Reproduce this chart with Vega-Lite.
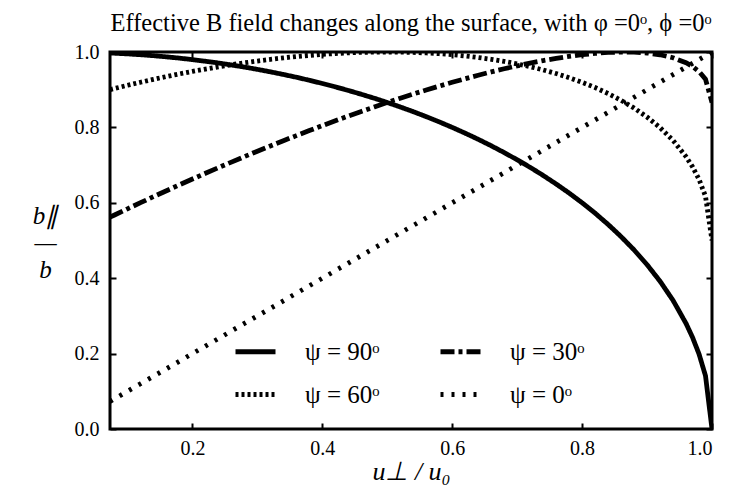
{
  "$schema": "https://vega.github.io/schema/vega-lite/v6.json",
  "width": 602,
  "height": 377,
  "autosize": {"type": "none"},
  "padding": {"left": 110, "top": 52, "right": 38, "bottom": 61},
  "title": {
    "text": "Effective B field changes along the surface, with φ =0ᵒ, ϕ =0ᵒ",
    "font": "Liberation Serif",
    "fontSize": 24.5,
    "fontWeight": "normal",
    "color": "black",
    "offset": 6
  },
  "data": {
    "values": [
      {"u": 0.073, "ψ = 90ᵒ": 0.9973, "ψ = 60ᵒ": 0.9002, "ψ = 30ᵒ": 0.5619, "ψ = 0ᵒ": 0.073},
      {"u": 0.08, "ψ = 90ᵒ": 0.9968, "ψ = 60ᵒ": 0.9032, "ψ = 30ᵒ": 0.5677, "ψ = 0ᵒ": 0.08},
      {"u": 0.10, "ψ = 90ᵒ": 0.9950, "ψ = 60ᵒ": 0.9117, "ψ = 30ᵒ": 0.5841, "ψ = 0ᵒ": 0.10},
      {"u": 0.12, "ψ = 90ᵒ": 0.9928, "ψ = 60ᵒ": 0.9198, "ψ = 30ᵒ": 0.6003, "ψ = 0ᵒ": 0.12},
      {"u": 0.14, "ψ = 90ᵒ": 0.9902, "ψ = 60ᵒ": 0.9275, "ψ = 30ᵒ": 0.6163, "ψ = 0ᵒ": 0.14},
      {"u": 0.16, "ψ = 90ᵒ": 0.9871, "ψ = 60ᵒ": 0.9349, "ψ = 30ᵒ": 0.6321, "ψ = 0ᵒ": 0.16},
      {"u": 0.18, "ψ = 90ᵒ": 0.9837, "ψ = 60ᵒ": 0.9419, "ψ = 30ᵒ": 0.6477, "ψ = 0ᵒ": 0.18},
      {"u": 0.20, "ψ = 90ᵒ": 0.9798, "ψ = 60ᵒ": 0.9485, "ψ = 30ᵒ": 0.6631, "ψ = 0ᵒ": 0.20},
      {"u": 0.22, "ψ = 90ᵒ": 0.9755, "ψ = 60ᵒ": 0.9548, "ψ = 30ᵒ": 0.6783, "ψ = 0ᵒ": 0.22},
      {"u": 0.24, "ψ = 90ᵒ": 0.9708, "ψ = 60ᵒ": 0.9607, "ψ = 30ᵒ": 0.6932, "ψ = 0ᵒ": 0.24},
      {"u": 0.26, "ψ = 90ᵒ": 0.9656, "ψ = 60ᵒ": 0.9662, "ψ = 30ᵒ": 0.7080, "ψ = 0ᵒ": 0.26},
      {"u": 0.28, "ψ = 90ᵒ": 0.9600, "ψ = 60ᵒ": 0.9714, "ψ = 30ᵒ": 0.7225, "ψ = 0ᵒ": 0.28},
      {"u": 0.30, "ψ = 90ᵒ": 0.9539, "ψ = 60ᵒ": 0.9761, "ψ = 30ᵒ": 0.7368, "ψ = 0ᵒ": 0.30},
      {"u": 0.32, "ψ = 90ᵒ": 0.9474, "ψ = 60ᵒ": 0.9805, "ψ = 30ᵒ": 0.7508, "ψ = 0ᵒ": 0.32},
      {"u": 0.34, "ψ = 90ᵒ": 0.9404, "ψ = 60ᵒ": 0.9844, "ψ = 30ᵒ": 0.7647, "ψ = 0ᵒ": 0.34},
      {"u": 0.36, "ψ = 90ᵒ": 0.9330, "ψ = 60ᵒ": 0.9880, "ψ = 30ᵒ": 0.7782, "ψ = 0ᵒ": 0.36},
      {"u": 0.38, "ψ = 90ᵒ": 0.9250, "ψ = 60ᵒ": 0.9911, "ψ = 30ᵒ": 0.7916, "ψ = 0ᵒ": 0.38},
      {"u": 0.40, "ψ = 90ᵒ": 0.9165, "ψ = 60ᵒ": 0.9937, "ψ = 30ᵒ": 0.8047, "ψ = 0ᵒ": 0.40},
      {"u": 0.42, "ψ = 90ᵒ": 0.9075, "ψ = 60ᵒ": 0.9959, "ψ = 30ᵒ": 0.8175, "ψ = 0ᵒ": 0.42},
      {"u": 0.44, "ψ = 90ᵒ": 0.8980, "ψ = 60ᵒ": 0.9977, "ψ = 30ᵒ": 0.8301, "ψ = 0ᵒ": 0.44},
      {"u": 0.46, "ψ = 90ᵒ": 0.8879, "ψ = 60ᵒ": 0.9990, "ψ = 30ᵒ": 0.8423, "ψ = 0ᵒ": 0.46},
      {"u": 0.48, "ψ = 90ᵒ": 0.8773, "ψ = 60ᵒ": 0.9997, "ψ = 30ᵒ": 0.8543, "ψ = 0ᵒ": 0.48},
      {"u": 0.50, "ψ = 90ᵒ": 0.8660, "ψ = 60ᵒ": 1.0000, "ψ = 30ᵒ": 0.8660, "ψ = 0ᵒ": 0.50},
      {"u": 0.52, "ψ = 90ᵒ": 0.8542, "ψ = 60ᵒ": 0.9997, "ψ = 30ᵒ": 0.8774, "ψ = 0ᵒ": 0.52},
      {"u": 0.54, "ψ = 90ᵒ": 0.8417, "ψ = 60ᵒ": 0.9989, "ψ = 30ᵒ": 0.8885, "ψ = 0ᵒ": 0.54},
      {"u": 0.56, "ψ = 90ᵒ": 0.8285, "ψ = 60ᵒ": 0.9975, "ψ = 30ᵒ": 0.8992, "ψ = 0ᵒ": 0.56},
      {"u": 0.58, "ψ = 90ᵒ": 0.8146, "ψ = 60ᵒ": 0.9955, "ψ = 30ᵒ": 0.9096, "ψ = 0ᵒ": 0.58},
      {"u": 0.60, "ψ = 90ᵒ": 0.8000, "ψ = 60ᵒ": 0.9928, "ψ = 30ᵒ": 0.9196, "ψ = 0ᵒ": 0.60},
      {"u": 0.62, "ψ = 90ᵒ": 0.7846, "ψ = 60ᵒ": 0.9895, "ψ = 30ᵒ": 0.9292, "ψ = 0ᵒ": 0.62},
      {"u": 0.64, "ψ = 90ᵒ": 0.7684, "ψ = 60ᵒ": 0.9854, "ψ = 30ᵒ": 0.9384, "ψ = 0ᵒ": 0.64},
      {"u": 0.66, "ψ = 90ᵒ": 0.7513, "ψ = 60ᵒ": 0.9806, "ψ = 30ᵒ": 0.9472, "ψ = 0ᵒ": 0.66},
      {"u": 0.68, "ψ = 90ᵒ": 0.7332, "ψ = 60ᵒ": 0.9750, "ψ = 30ᵒ": 0.9555, "ψ = 0ᵒ": 0.68},
      {"u": 0.70, "ψ = 90ᵒ": 0.7141, "ψ = 60ᵒ": 0.9685, "ψ = 30ᵒ": 0.9633, "ψ = 0ᵒ": 0.70},
      {"u": 0.72, "ψ = 90ᵒ": 0.6940, "ψ = 60ᵒ": 0.9610, "ψ = 30ᵒ": 0.9705, "ψ = 0ᵒ": 0.72},
      {"u": 0.74, "ψ = 90ᵒ": 0.6726, "ψ = 60ᵒ": 0.9525, "ψ = 30ᵒ": 0.9772, "ψ = 0ᵒ": 0.74},
      {"u": 0.76, "ψ = 90ᵒ": 0.6499, "ψ = 60ᵒ": 0.9428, "ψ = 30ᵒ": 0.9831, "ψ = 0ᵒ": 0.76},
      {"u": 0.78, "ψ = 90ᵒ": 0.6258, "ψ = 60ᵒ": 0.9319, "ψ = 30ᵒ": 0.9884, "ψ = 0ᵒ": 0.78},
      {"u": 0.80, "ψ = 90ᵒ": 0.6000, "ψ = 60ᵒ": 0.9196, "ψ = 30ᵒ": 0.9928, "ψ = 0ᵒ": 0.80},
      {"u": 0.82, "ψ = 90ᵒ": 0.5724, "ψ = 60ᵒ": 0.9057, "ψ = 30ᵒ": 0.9963, "ψ = 0ᵒ": 0.82},
      {"u": 0.84, "ψ = 90ᵒ": 0.5426, "ψ = 60ᵒ": 0.8899, "ψ = 30ᵒ": 0.9988, "ψ = 0ᵒ": 0.84},
      {"u": 0.86, "ψ = 90ᵒ": 0.5103, "ψ = 60ᵒ": 0.8719, "ψ = 30ᵒ": 0.9999, "ψ = 0ᵒ": 0.86},
      {"u": 0.88, "ψ = 90ᵒ": 0.4750, "ψ = 60ᵒ": 0.8513, "ψ = 30ᵒ": 0.9996, "ψ = 0ᵒ": 0.88},
      {"u": 0.90, "ψ = 90ᵒ": 0.4359, "ψ = 60ᵒ": 0.8275, "ψ = 30ᵒ": 0.9974, "ψ = 0ᵒ": 0.90},
      {"u": 0.92, "ψ = 90ᵒ": 0.3919, "ψ = 60ᵒ": 0.7994, "ψ = 30ᵒ": 0.9927, "ψ = 0ᵒ": 0.92},
      {"u": 0.94, "ψ = 90ᵒ": 0.3412, "ψ = 60ᵒ": 0.7655, "ψ = 30ᵒ": 0.9847, "ψ = 0ᵒ": 0.94},
      {"u": 0.96, "ψ = 90ᵒ": 0.2800, "ψ = 60ᵒ": 0.7225, "ψ = 30ᵒ": 0.9714, "ψ = 0ᵒ": 0.96},
      {"u": 0.97, "ψ = 90ᵒ": 0.2431, "ψ = 60ᵒ": 0.6955, "ψ = 30ᵒ": 0.9616, "ψ = 0ᵒ": 0.97},
      {"u": 0.98, "ψ = 90ᵒ": 0.1990, "ψ = 60ᵒ": 0.6623, "ψ = 30ᵒ": 0.9482, "ψ = 0ᵒ": 0.98},
      {"u": 0.99, "ψ = 90ᵒ": 0.1411, "ψ = 60ᵒ": 0.6172, "ψ = 30ᵒ": 0.9279, "ψ = 0ᵒ": 0.99},
      {"u": 1.00, "ψ = 90ᵒ": 0.0000, "ψ = 60ᵒ": 0.5000, "ψ = 30ᵒ": 0.8660, "ψ = 0ᵒ": 1.00}
    ]
  },
  "transform": [
    {"fold": ["ψ = 90ᵒ", "ψ = 60ᵒ", "ψ = 30ᵒ", "ψ = 0ᵒ"], "as": ["psi", "b"]}
  ],
  "layer": [
    {
      "mark": {"type": "line", "strokeWidth": 4.8, "color": "black", "clip": true},
      "encoding": {
        "x": {
          "field": "u",
          "type": "quantitative",
          "scale": {"domain": [0.073, 1], "nice": false, "zero": false},
          "axis": {
            "orient": "bottom",
            "values": [0.2, 0.4, 0.6, 0.8, 1.0],
            "format": ".1f",
            "title": "u⊥ / u₀",
            "titleFontSize": 26,
            "titleFontStyle": "italic",
            "titleBaseline": "top",
            "titleY": 29,
            "labelPadding": 15
          }
        },
        "y": {
          "field": "b",
          "type": "quantitative",
          "scale": {"domain": [0, 1], "nice": false},
          "axis": {
            "orient": "left",
            "values": [0, 0.2, 0.4, 0.6, 0.8, 1.0],
            "format": ".1f",
            "title": ["b∥", "—", "b"],
            "titleAngle": 0,
            "titleAlign": "center",
            "titleBaseline": "middle",
            "titleX": -65,
            "titleY": 163,
            "titleFontSize": 25,
            "titleFontStyle": "italic",
            "titleLineHeight": 27,
            "labelPadding": 17
          }
        },
        "strokeDash": {
          "field": "psi",
          "type": "nominal",
          "scale": {
            "domain": ["ψ = 90ᵒ", "ψ = 60ᵒ", "ψ = 30ᵒ", "ψ = 0ᵒ"],
            "range": [[1, 0], [3, 3], [14, 4, 4, 4], [3, 8]]
          },
          "legend": {"title": null}
        }
      }
    },
    {
      "mark": {"type": "line", "strokeOpacity": 0},
      "encoding": {
        "x": {
          "field": "u",
          "type": "quantitative",
          "axis": {"orient": "top", "values": [0.2, 0.4, 0.6, 0.8, 1.0], "labels": false, "title": null}
        },
        "y": {
          "field": "b",
          "type": "quantitative",
          "axis": {"orient": "right", "values": [0, 0.2, 0.4, 0.6, 0.8, 1.0], "labels": false, "title": null}
        },
        "detail": {"field": "psi", "type": "nominal"}
      }
    }
  ],
  "config": {
    "view": {"stroke": "black", "strokeWidth": 3},
    "axis": {
      "domain": false,
      "grid": false,
      "tickSize": -6,
      "tickWidth": 2,
      "tickColor": "black",
      "labelFont": "Liberation Serif",
      "labelFontSize": 20,
      "labelColor": "black",
      "titleFont": "Liberation Serif",
      "titleColor": "black",
      "titleFontWeight": "normal"
    },
    "legend": {
      "orient": "none",
      "legendX": 123,
      "legendY": 277,
      "columns": 2,
      "symbolType": "stroke",
      "symbolSize": 1600,
      "symbolStrokeWidth": 4.8,
      "symbolStrokeColor": "black",
      "labelFont": "Liberation Serif",
      "labelFontSize": 25,
      "labelColor": "black",
      "labelOffset": 27,
      "columnPadding": 50,
      "rowPadding": 7
    }
  }
}
